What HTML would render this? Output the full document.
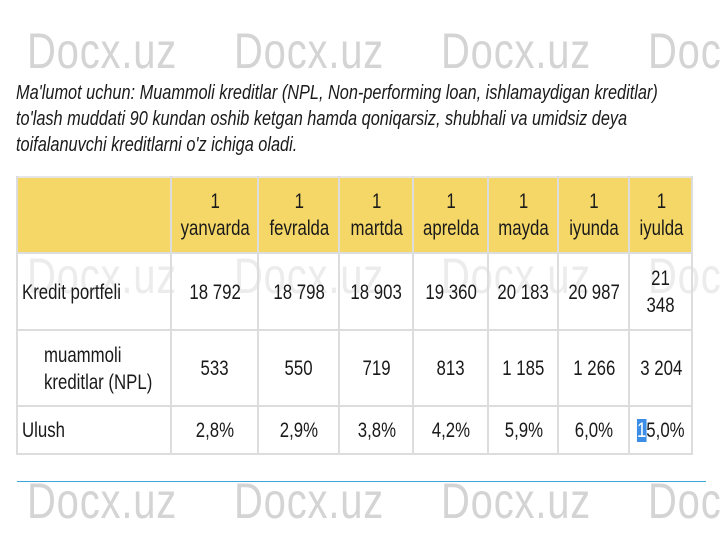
<!DOCTYPE html>
<html><head><meta charset="utf-8"><style>
body{margin:0;width:720px;height:540px;background:#fff;position:relative;overflow:hidden;font-family:"Liberation Sans",sans-serif;color:#222}
.wm{position:absolute;font-size:50px;color:#d4d4d4;transform:scaleX(0.8);transform-origin:left top;letter-spacing:1px;white-space:nowrap}
.note{position:absolute;left:16px;font-style:italic;font-size:20px;white-space:nowrap;transform:scaleX(0.815);transform-origin:left top;color:#1a1a1a}
.c{position:absolute;display:flex;align-items:center;justify-content:center;text-align:center;font-size:21px;line-height:27px;box-sizing:border-box;color:#1a1a1a}
.c span{display:inline-block;transform:scaleX(0.8);white-space:nowrap}
.h{background:#f4d767}
.vl{position:absolute;width:2px;background:#ddd}
.hl{position:absolute;height:2px;background:#ddd;left:17px;width:676px}
</style></head><body>
<div class="wm" style="left:27px;top:22px">Docx.uz</div>
<div class="wm" style="left:234px;top:22px">Docx.uz</div>
<div class="wm" style="left:441px;top:22px">Docx.uz</div>
<div class="wm" style="left:648px;top:22px">Docx.uz</div>
<div class="note" style="top:82px">Ma'lumot uchun: Muammoli kreditlar (NPL, Non-performing loan, ishlamaydigan kreditlar)</div>
<div class="note" style="top:108px">to'lash muddati 90 kundan oshib ketgan hamda qoniqarsiz, shubhali va umidsiz deya</div>
<div class="note" style="top:134px">toifalanuvchi kreditlarni o'z ichiga oladi.</div>

<div class="h" style="position:absolute;left:17px;top:177px;width:675px;height:76px"></div>
<div class="wm" style="left:27px;top:247px;color:#ececec">Docx.uz</div>
<div class="wm" style="left:234px;top:247px;color:#ececec">Docx.uz</div>
<div class="wm" style="left:441px;top:247px;color:#ececec">Docx.uz</div>
<div class="wm" style="left:648px;top:247px;color:#ececec">Docx.uz</div>

<div class="hl" style="top:176px;background:#e6e6e6"></div>
<div class="hl" style="top:252px"></div>
<div class="hl" style="top:329px"></div>
<div class="hl" style="top:405px"></div>
<div class="hl" style="top:453px"></div>
<div class="vl" style="left:16px;top:176px;height:279px"></div>
<div class="vl" style="left:170px;top:176px;height:279px"></div>
<div class="vl" style="left:257px;top:176px;height:279px"></div>
<div class="vl" style="left:338px;top:176px;height:279px"></div>
<div class="vl" style="left:412px;top:176px;height:279px"></div>
<div class="vl" style="left:487px;top:176px;height:279px"></div>
<div class="vl" style="left:557px;top:176px;height:279px"></div>
<div class="vl" style="left:628px;top:176px;height:279px"></div>
<div class="vl" style="left:691px;top:176px;height:279px"></div>

<div class="c" style="left:172px;top:177px;width:86px;height:76px"><span>1<br>yanvarda</span></div>
<div class="c" style="left:259px;top:177px;width:80px;height:76px"><span>1<br>fevralda</span></div>
<div class="c" style="left:340px;top:177px;width:73px;height:76px"><span>1<br>martda</span></div>
<div class="c" style="left:414px;top:177px;width:74px;height:76px"><span>1<br>aprelda</span></div>
<div class="c" style="left:489px;top:177px;width:69px;height:76px"><span>1<br>mayda</span></div>
<div class="c" style="left:559px;top:177px;width:70px;height:76px"><span>1<br>iyunda</span></div>
<div class="c" style="left:630px;top:177px;width:62px;height:76px"><span>1<br>iyulda</span></div>

<div class="c" style="left:22px;top:254px;width:148px;height:76px;justify-content:flex-start"><span style="transform-origin:left">Kredit portfeli</span></div>
<div class="c" style="left:172px;top:254px;width:86px;height:76px"><span>18 792</span></div>
<div class="c" style="left:259px;top:254px;width:80px;height:76px"><span>18 798</span></div>
<div class="c" style="left:340px;top:254px;width:73px;height:76px"><span>18 903</span></div>
<div class="c" style="left:414px;top:254px;width:74px;height:76px"><span>19 360</span></div>
<div class="c" style="left:489px;top:254px;width:69px;height:76px"><span>20 183</span></div>
<div class="c" style="left:559px;top:254px;width:70px;height:76px"><span>20 987</span></div>
<div class="c" style="left:630px;top:254px;width:62px;height:76px"><span>21<br>348</span></div>

<div class="c" style="left:44px;top:331px;width:126px;height:75px;justify-content:flex-start;text-align:left"><span style="transform-origin:left">muammoli<br>kreditlar (NPL)</span></div>
<div class="c" style="left:172px;top:331px;width:86px;height:75px"><span>533</span></div>
<div class="c" style="left:259px;top:331px;width:80px;height:75px"><span>550</span></div>
<div class="c" style="left:340px;top:331px;width:73px;height:75px"><span>719</span></div>
<div class="c" style="left:414px;top:331px;width:74px;height:75px"><span>813</span></div>
<div class="c" style="left:489px;top:331px;width:69px;height:75px"><span>1 185</span></div>
<div class="c" style="left:559px;top:331px;width:70px;height:75px"><span>1 266</span></div>
<div class="c" style="left:630px;top:331px;width:62px;height:75px"><span>3 204</span></div>

<div class="c" style="left:22px;top:407px;width:148px;height:47px;justify-content:flex-start"><span style="transform-origin:left">Ulush</span></div>
<div class="c" style="left:172px;top:407px;width:86px;height:47px"><span>2,8%</span></div>
<div class="c" style="left:259px;top:407px;width:80px;height:47px"><span>2,9%</span></div>
<div class="c" style="left:340px;top:407px;width:73px;height:47px"><span>3,8%</span></div>
<div class="c" style="left:414px;top:407px;width:74px;height:47px"><span>4,2%</span></div>
<div class="c" style="left:489px;top:407px;width:69px;height:47px"><span>5,9%</span></div>
<div class="c" style="left:559px;top:407px;width:70px;height:47px"><span>6,0%</span></div>
<div class="c" style="left:630px;top:407px;width:62px;height:47px"><span><b style="font-weight:normal;background:#3b8de6;color:#fff">1</b>5,0%</span></div>

<div class="wm" style="left:27px;top:472px">Docx.uz</div>
<div class="wm" style="left:234px;top:472px">Docx.uz</div>
<div class="wm" style="left:441px;top:472px">Docx.uz</div>
<div class="wm" style="left:648px;top:472px">Docx.uz</div>
<div style="position:absolute;left:17px;top:481px;width:689px;height:1px;background:#3ba7d9"></div>
</body></html>
